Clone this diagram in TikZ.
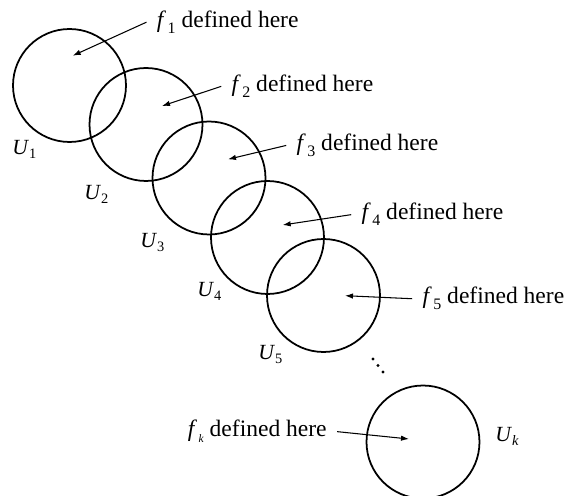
\documentclass[tikz,border=0pt]{standalone}
\usepackage{fontspec}
\setmainfont{Liberation Serif}
\usetikzlibrary{arrows.meta, positioning}
\newcommand{\fsub}[1]{\textit{f}\kern0.06em\raisebox{-0.25em}{\fontsize{9.1}{10}\selectfont #1}}
\newcommand{\Usub}[1]{\textit{U}\raisebox{-0.17em}{\fontsize{8.2}{10}\selectfont #1}}

\begin{document}
\begin{tikzpicture}[
        x=0.02cm, y=-0.02cm,
        region/.style={circle, draw, line width=1pt, minimum size=2.26cm, inner sep=0pt},
        deflabel/.style={anchor=base west, inner sep=0.21cm, outer sep=0pt, font=\fontsize{13.4}{16}\selectfont},
        setlabel/.style={anchor=base west, inner sep=0pt, font=\fontsize{12.3}{15}\selectfont},
        pointer/.style={-{Latex[length=1.6mm,width=1.1mm]}, line width=0.6pt}
    ]
        \useasboundingbox (0,0) rectangle (569,496);

        \node[region] (c1) at (69.5,85.5) {};
        \node[region] (c2) at (146,124.5) {};
        \node[region] (c3) at (209,178) {};
        \node[region] (c4) at (267.5,237.5) {};
        \node[region] (c5) at (323.5,295.5) {};
        \node[region] (ck) at (423,442) {};

        \coordinate (t1) at (72.7,55.7);
        \coordinate (t2) at (162,106);
        \coordinate (t3) at (228,159.3);
        \coordinate (t4) at (282.7,225);
        \coordinate (t5) at (345,295.7);
        \coordinate (tk) at (409,439);

        \node[deflabel] (l1) at (146.5,27.5) {\fsub{1} defined here};
        \node[deflabel] (l2) at (221.2,91.7) {\fsub{2} defined here};
        \node[deflabel] (l3) at (286.2,150.7) {\fsub{3} defined here};
        \node[deflabel] (l4) at (351.2,220) {\fsub{4} defined here};
        \node[deflabel] (l5) at (412.2,304) {\fsub{5} defined here};
        \node[deflabel, anchor=base east] (lk) at (337.2,437) {\textit{f}\kern0.06em\raisebox{-0.25em}{\fontsize{6.5}{8}\selectfont\textit{k}} defined here};

        \draw[pointer] (l1.west) -- (t1);
        \draw[pointer] (l2.west) -- (t2);
        \draw[pointer] (l3.west) -- (t3);
        \draw[pointer] (l4.west) -- (t4);
        \draw[pointer] (l5.west) -- (t5);
        \draw[pointer] (lk.east) -- (tk);

        \node[setlabel] (u1) at (12,155) {\Usub{1}};
        \node[setlabel] (u2) at (84,200) {\Usub{2}};
        \node[setlabel] (u3) at (140,248) {\Usub{3}};
        \node[setlabel] (u4) at (197,297) {\Usub{4}};
        \node[setlabel] (u5) at (258,360) {\Usub{5}};
        \node[setlabel] (uk) at (495,441.7) {\Usub{\textit{k}}};

        % dots between U5 and Uk
        \foreach \p in {(373,359), (378,365.5), (383,372)}
            \fill \p circle [radius=1.6];
    \end{tikzpicture}
\end{document}
